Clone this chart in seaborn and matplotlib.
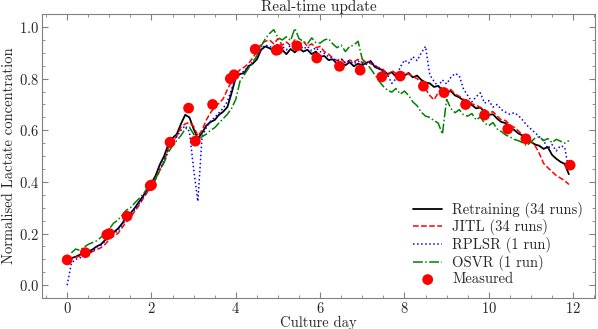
import numpy as np
import pandas as pd
import seaborn as sns
import matplotlib
matplotlib.use("Agg")
import matplotlib.pyplot as plt
from matplotlib.ticker import AutoMinorLocator

# sampling grid for the model predictions (culture day, every 0.1 d)
days = np.round(np.arange(0, 12.0, 0.1), 1)

retraining = [
    0.100, 0.105, 0.110, 0.118, 0.122, 0.130, 0.138, 0.150, 0.158, 0.175,
    0.192, 0.205, 0.218, 0.238, 0.262, 0.278, 0.298, 0.322, 0.345, 0.372,
    0.395, 0.425, 0.468, 0.500, 0.545, 0.570, 0.585, 0.625, 0.660, 0.650,
    0.605, 0.568, 0.590, 0.618, 0.632, 0.640, 0.660, 0.672, 0.690, 0.745,
    0.805, 0.818, 0.822, 0.848, 0.858, 0.875, 0.912, 0.925, 0.918, 0.908,
    0.922, 0.912, 0.895, 0.915, 0.902, 0.918, 0.905, 0.912, 0.895, 0.905,
    0.885, 0.888, 0.872, 0.875, 0.858, 0.862, 0.852, 0.864, 0.848, 0.858,
    0.852, 0.862, 0.868, 0.845, 0.838, 0.832, 0.818, 0.825, 0.808, 0.818,
    0.812, 0.822, 0.805, 0.812, 0.795, 0.785, 0.782, 0.768, 0.772, 0.755,
    0.748, 0.752, 0.735, 0.728, 0.715, 0.712, 0.698, 0.685, 0.688, 0.672,
    0.660, 0.662, 0.645, 0.632, 0.628, 0.610, 0.602, 0.588, 0.580, 0.565,
    0.555, 0.545, 0.540, 0.528, 0.535, 0.505, 0.490, 0.478, 0.470, 0.430,
]

jitl = [
    0.095, 0.100, 0.108, 0.112, 0.118, 0.122, 0.130, 0.138, 0.145, 0.158,
    0.178, 0.190, 0.200, 0.222, 0.245, 0.262, 0.285, 0.308, 0.335, 0.360,
    0.380, 0.410, 0.445, 0.480, 0.530, 0.555, 0.578, 0.612, 0.625, 0.630,
    0.615, 0.578, 0.600, 0.640, 0.668, 0.690, 0.705, 0.722, 0.758, 0.790,
    0.815, 0.835, 0.845, 0.858, 0.880, 0.905, 0.935, 0.945, 0.950, 0.935,
    0.955, 0.930, 0.942, 0.928, 0.950, 0.935, 0.945, 0.925, 0.935, 0.920,
    0.925, 0.905, 0.895, 0.880, 0.870, 0.878, 0.860, 0.872, 0.865, 0.875,
    0.862, 0.870, 0.858, 0.850, 0.842, 0.835, 0.812, 0.832, 0.820, 0.815,
    0.825, 0.818, 0.808, 0.800, 0.785, 0.760, 0.735, 0.718, 0.745, 0.770,
    0.752, 0.758, 0.740, 0.732, 0.720, 0.715, 0.702, 0.698, 0.688, 0.680,
    0.668, 0.672, 0.655, 0.640, 0.638, 0.620, 0.612, 0.598, 0.582, 0.575,
    0.558, 0.540, 0.510, 0.472, 0.455, 0.440, 0.425, 0.415, 0.405, 0.390,
]

rplsr = [
    0.000, 0.085, 0.100, 0.105, 0.115, 0.125, 0.132, 0.148, 0.155, 0.170,
    0.188, 0.198, 0.212, 0.232, 0.255, 0.272, 0.292, 0.315, 0.340, 0.365,
    0.385, 0.415, 0.450, 0.485, 0.525, 0.552, 0.575, 0.600, 0.618, 0.595,
    0.450, 0.325, 0.575, 0.610, 0.635, 0.650, 0.668, 0.685, 0.712, 0.760,
    0.800, 0.818, 0.830, 0.848, 0.865, 0.885, 0.915, 0.930, 0.925, 0.918,
    0.935, 0.925, 0.912, 0.930, 0.920, 0.932, 0.915, 0.925, 0.908, 0.920,
    0.905, 0.898, 0.885, 0.878, 0.868, 0.875, 0.862, 0.870, 0.858, 0.868,
    0.860, 0.855, 0.865, 0.850, 0.842, 0.825, 0.815, 0.782, 0.800, 0.845,
    0.872, 0.860, 0.885, 0.870, 0.900, 0.925, 0.815, 0.790, 0.770, 0.795,
    0.780, 0.805, 0.820, 0.812, 0.760, 0.735, 0.710, 0.730, 0.745, 0.705,
    0.715, 0.690, 0.700, 0.680, 0.670, 0.662, 0.668, 0.658, 0.640, 0.620,
    0.605, 0.590, 0.575, 0.560, 0.530, 0.545, 0.520, 0.540, 0.535, 0.445,
]

# OSVR starts one sample later (day 0.1)
osvr = [
    0.125, 0.140, 0.135, 0.148, 0.158, 0.165, 0.172, 0.185, 0.200,
    0.218, 0.240, 0.252, 0.270, 0.290, 0.300, 0.318, 0.335, 0.352, 0.375,
    0.392, 0.415, 0.445, 0.475, 0.515, 0.540, 0.560, 0.580, 0.605, 0.612,
    0.585, 0.565, 0.575, 0.585, 0.600, 0.610, 0.628, 0.645, 0.662, 0.685,
    0.720, 0.790, 0.815, 0.840, 0.860, 0.890, 0.925, 0.955, 0.975, 0.990,
    0.960, 0.950, 0.962, 0.948, 0.995, 0.955, 0.945, 0.935, 0.958, 0.940,
    0.938, 0.950, 0.955, 0.935, 0.920, 0.930, 0.905, 0.925, 0.930, 0.945,
    0.875, 0.860, 0.838, 0.815, 0.790, 0.770, 0.755, 0.748, 0.762, 0.740,
    0.752, 0.735, 0.710, 0.695, 0.670, 0.655, 0.650, 0.638, 0.628, 0.585,
    0.720, 0.685, 0.668, 0.680, 0.660, 0.655, 0.665, 0.640, 0.652, 0.628,
    0.618, 0.630, 0.605, 0.595, 0.582, 0.575, 0.565, 0.560, 0.552, 0.540,
    0.555, 0.570, 0.575, 0.560, 0.568, 0.552, 0.565, 0.558, 0.550, 0.560,
]

meas_days = [0.0, 0.43, 0.94, 1.0, 1.42, 1.97, 2.0, 2.44, 2.88, 3.04, 3.45,
             3.87, 3.96, 4.46, 4.96, 5.0, 5.45, 5.92, 6.46, 6.95, 7.46, 7.9,
             8.45, 8.94, 9.45, 9.9, 10.45, 10.88, 11.93]
meas_vals = [0.098, 0.126, 0.195, 0.200, 0.267, 0.385, 0.388, 0.554, 0.686,
             0.558, 0.700, 0.800, 0.815, 0.914, 0.910, 0.913, 0.927, 0.880,
             0.848, 0.833, 0.807, 0.810, 0.771, 0.746, 0.700, 0.659, 0.605,
             0.567, 0.465]

sns.set_style("ticks", {"xtick.direction": "in", "ytick.direction": "in"})
plt.rcParams["font.family"] = "serif"
plt.rcParams["font.serif"] = ["cmr10", "DejaVu Serif"]
plt.rcParams["mathtext.fontset"] = "cm"
plt.rcParams["axes.formatter.use_mathtext"] = True

fig = plt.figure(figsize=(5.98, 3.29), dpi=100)
ax = fig.add_axes([0.070, 0.094, 0.925, 0.863])

sns.lineplot(x=days, y=retraining, ax=ax, color="black", lw=1.3,
             label="Retraining (34 runs)")
sns.lineplot(x=days, y=jitl, ax=ax, color="red", lw=1.1, linestyle="--",
             label="JITL (34 runs)")
sns.lineplot(x=days, y=rplsr, ax=ax, color="blue", lw=1.1, linestyle=":",
             label="RPLSR (1 run)")
sns.lineplot(x=days[1:], y=osvr, ax=ax, color="green", lw=1.1, linestyle="-.",
             label="OSVR (1 run)")
sns.scatterplot(x=meas_days, y=meas_vals, ax=ax, color="red", s=60,
                edgecolor="none", zorder=5, label="Measured")

ax.set_xlim(-0.6, 12.52)
ax.set_ylim(-0.05, 1.05)
ax.set_xticks([0, 2, 4, 6, 8, 10, 12])
ax.set_yticks([0.0, 0.2, 0.4, 0.6, 0.8, 1.0])
ax.xaxis.set_minor_locator(AutoMinorLocator(4))
ax.yaxis.set_minor_locator(AutoMinorLocator(4))
ax.tick_params(which="both", direction="in", top=True, right=True,
               color="0.5", labelsize=10.5, pad=2)
ax.tick_params(which="major", length=4)
ax.tick_params(which="minor", length=2)
for sp in ax.spines.values():
    sp.set_color("0.5")
    sp.set_linewidth(0.8)

ax.set_title("Real-time update", fontsize=11, pad=2)
ax.set_xlabel("Culture day", fontsize=10.5)
ax.xaxis.set_label_coords(0.5, -0.062)
ax.set_ylabel("Normalised Lactate concentration", fontsize=10.5, labelpad=2)
ax.legend(loc="lower right", frameon=False, fontsize=10.5, handlelength=2.0,
          handletextpad=0.7, labelspacing=0.12, borderaxespad=0.4)

fig.savefig("out.png", dpi=100)
